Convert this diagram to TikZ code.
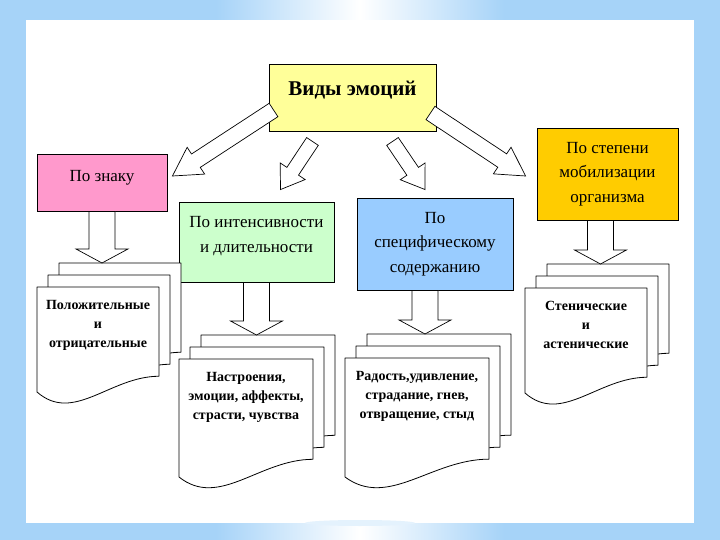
\documentclass[tikz,border=0pt]{standalone}
\usepackage{fontspec}
\setmainfont{Liberation Serif}
\usetikzlibrary{calc, shadings}

\definecolor{frameblue}{RGB}{166,211,248}
\definecolor{titleyellow}{RGB}{255,255,153}
\definecolor{signpink}{RGB}{255,153,204}
\definecolor{intensgreen}{RGB}{204,255,204}
\definecolor{contentblue}{RGB}{153,204,255}
\definecolor{mobilorange}{RGB}{255,204,0}

\pgfdeclarehorizontalshading{bandshade}{100bp}{color(0bp)=(frameblue); color(40bp)=(frameblue); color(50bp)=(white); color(60bp)=(frameblue); color(100bp)=(frameblue)}

\tikzset{
    catbox/.style={draw=black, line width=0.9pt, align=center, inner sep=2pt, font=\fontsize{17}{24.5}\selectfont},
    docpage/.style={draw=black, fill=white, line width=0.8pt, line join=round},
    doctext/.style={align=center, inner sep=0pt, font=\bfseries\fontsize{14}{19}\selectfont},
    hollowarrow/.style={draw=black, fill=white, line width=0.7pt, line join=miter},
}

% hollow block arrow: from, to, half shaft, half head, head length
\newcommand{\blockarrow}[5]{%
    \coordinate (ba-base) at ($(#2)!#5!(#1)$);
    \draw[hollowarrow] ($(#1)!#3!90:(#2)$) -- ($(ba-base)!#3!90:(#2)$) -- ($(ba-base)!#4!90:(#2)$) -- (#2) -- ($(ba-base)!#4!-90:(#2)$) -- ($(ba-base)!#3!-90:(#2)$) -- ($(#1)!#3!-90:(#2)$) -- cycle;
}

% stack of three pages: name, left, top, width, height, text
\newcommand{\docstack}[6]{%
    \foreach \k in {2,1,0}{%
        \begin{scope}[shift={({#2+11*\k},{#3-12*\k})}]
            \draw[docpage] (0,0) -- (#4,0) -- (#4,{0.85*#5}) .. controls ({0.6*#4},{0.85*#5}) and ({0.3*#4},{#5+32}) .. (0,#5) -- cycle;
        \end{scope}}
    \coordinate (#1-top) at ({#2+22+0.5*#4},{#3-24});
    \node[doctext, anchor=north] (#1) at ({#2+0.5*#4},{#3+13}) {#6};
}

\begin{document}
\begin{tikzpicture}[x=1pt, y=-1pt]
    \useasboundingbox (0,0) rectangle (720,540);
    % Frame and white sheet
    \fill[frameblue] (0,0) rectangle (720,540);
    \fill[shading=bandshade] (0,0) rectangle (720,20);
    \fill[shading=bandshade] (0,523) rectangle (720,540);
    \fill[white] (26,20) rectangle (694,523);
    \fill[white!70!frameblue] (360,523) ellipse (55 and 3);

    % Kinds of emotions
    \node[catbox, fill=titleyellow, minimum width=167pt, minimum height=67pt, text depth=19pt, font=\bfseries\fontsize{21}{25}\selectfont] (title) at (352.5,97.5) {Виды эмоций};
    \node[catbox, fill=signpink, minimum width=130pt, minimum height=57pt, text depth=14pt] (sign) at (102,182.5) {По знаку};
    \node[catbox, fill=intensgreen, minimum width=155pt, minimum height=80pt, text depth=15pt] (intens) at (256.5,242) {По интенсивности\\и длительности};
    \node[catbox, fill=contentblue, minimum width=156pt, minimum height=92pt] (content) at (435,244) {По\\специфическому\\содержанию};
    \node[catbox, fill=mobilorange, minimum width=141pt, minimum height=92pt] (mobil) at (607.5,174) {По степени\\мобилизации\\организма};

    % Page stacks
    \docstack{signdoc}{37}{287}{122}{105}{Положительные\\и\\отрицательные}
    \docstack{intensdoc}{179}{359}{134}{118}{Настроения,\\эмоции, аффекты,\\страсти, чувства}
    \docstack{contentdoc}{345}{358}{144}{119}{Радость,удивление,\\страдание, гнев,\\отвращение, стыд}
    \docstack{mobildoc}{525}{288}{122}{105}{Стенические\\и\\астенические}

    % Arrows from the title
    \coordinate (d1s) at ($(title.west)+(5,12.5)$);
    \coordinate (d1e) at ($(sign.east)+(5,-6.5)$);
    \coordinate (d2s) at ($(title.south)+(-40,10)$);
    \coordinate (d2e) at ($(intens.north)+(24,-12)$);
    \coordinate (d3s) at ($(title.south)+(40,10)$);
    \coordinate (d3e) at ($(content.north)+(-10,-8)$);
    \coordinate (d4s) at ($(title.east)+(-6,15.5)$);
    \coordinate (d4e) at ($(mobil.west)+(-11,2)$);
    \blockarrow{d1s}{d1e}{8pt}{16pt}{28pt}
    \blockarrow{d2s}{d2e}{7pt}{15pt}{22pt}
    \blockarrow{d3s}{d3e}{7pt}{15pt}{22pt}
    \blockarrow{d4s}{d4e}{8pt}{16pt}{28pt}

    % Arrows down to the stacks
    \coordinate (v1s) at (sign.south);
    \coordinate (v1e) at (sign.south |- signdoc-top);
    \coordinate (v2s) at (intens.south);
    \coordinate (v2e) at (intens.south |- intensdoc-top);
    \coordinate (v3s) at ($(content.south)+(-10,0)$);
    \coordinate (v3e) at (v3s |- contentdoc-top);
    \coordinate (v4s) at ($(mobil.south)+(-7,0)$);
    \coordinate (v4e) at (v4s |- mobildoc-top);
    \foreach \a in {1,2,3,4}{
        \blockarrow{v\a s}{v\a e}{13pt}{26pt}{14pt}
    }
\end{tikzpicture}
\end{document}
